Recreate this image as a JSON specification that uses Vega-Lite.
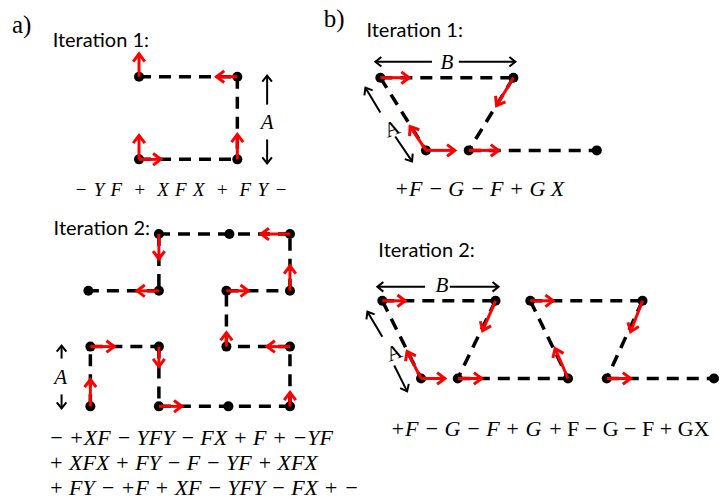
{
  "$schema": "https://vega.github.io/schema/vega-lite/v6.json",
  "width": 719,
  "height": 499,
  "autosize": {"type": "fit", "contains": "padding"},
  "padding": 0,
  "background": "white",
  "config": {"view": {"stroke": null}},
  "datasets": {
    "lines": [
      {"x": 140, "y": 77, "x2": 239, "y2": 77},
      {"x": 239, "y": 77, "x2": 239, "y2": 160},
      {"x": 140, "y": 160, "x2": 239, "y2": 160},
      {"x": 91, "y": 408, "x2": 91, "y2": 348},
      {"x": 91, "y": 348, "x2": 160, "y2": 348},
      {"x": 160, "y": 348, "x2": 160, "y2": 408},
      {"x": 160, "y": 408, "x2": 292, "y2": 408},
      {"x": 292, "y": 408, "x2": 292, "y2": 348},
      {"x": 292, "y": 348, "x2": 228, "y2": 348},
      {"x": 228, "y": 348, "x2": 228, "y2": 292},
      {"x": 228, "y": 292, "x2": 292, "y2": 292},
      {"x": 292, "y": 292, "x2": 292, "y2": 235},
      {"x": 292, "y": 235, "x2": 160, "y2": 235},
      {"x": 160, "y": 235, "x2": 160, "y2": 292},
      {"x": 160, "y": 292, "x2": 89, "y2": 292},
      {"x": 383, "y": 78, "x2": 517, "y2": 78},
      {"x": 517, "y": 78, "x2": 472, "y2": 151},
      {"x": 383, "y": 78, "x2": 429, "y2": 151},
      {"x": 472, "y": 151, "x2": 601, "y2": 151},
      {"x": 385, "y": 302, "x2": 499, "y2": 302},
      {"x": 385, "y": 302, "x2": 424, "y2": 380},
      {"x": 499, "y": 302, "x2": 461, "y2": 380},
      {"x": 461, "y": 380, "x2": 572, "y2": 380},
      {"x": 534, "y": 302, "x2": 647, "y2": 302},
      {"x": 534, "y": 302, "x2": 572, "y2": 380},
      {"x": 647, "y": 302, "x2": 611, "y2": 380},
      {"x": 611, "y": 380, "x2": 719, "y2": 380}
    ],
    "dots": [
      {"x": 140, "y": 77}, {"x": 239, "y": 77}, {"x": 140, "y": 160}, {"x": 239, "y": 160},
      {"x": 160, "y": 235}, {"x": 231, "y": 235}, {"x": 292, "y": 235},
      {"x": 89, "y": 292}, {"x": 160, "y": 292}, {"x": 228, "y": 292}, {"x": 292, "y": 292},
      {"x": 91, "y": 348}, {"x": 160, "y": 348}, {"x": 228, "y": 348}, {"x": 292, "y": 348},
      {"x": 91, "y": 408}, {"x": 160, "y": 408}, {"x": 230, "y": 408}, {"x": 292, "y": 408},
      {"x": 383, "y": 78}, {"x": 517, "y": 78}, {"x": 429, "y": 151}, {"x": 472, "y": 151}, {"x": 601, "y": 151},
      {"x": 385, "y": 302}, {"x": 499, "y": 302}, {"x": 534, "y": 302}, {"x": 647, "y": 302},
      {"x": 424, "y": 380}, {"x": 461, "y": 380}, {"x": 572, "y": 380}, {"x": 611, "y": 380}, {"x": 719, "y": 380}
    ],
    "red": [
      {"x": 140, "y": 77, "x2": 140, "y2": 54},
      {"x": 239, "y": 77, "x2": 218, "y2": 77},
      {"x": 239, "y": 160, "x2": 239, "y2": 135},
      {"x": 140, "y": 160, "x2": 140, "y2": 136},
      {"x": 140, "y": 160, "x2": 162, "y2": 160},
      {"x": 91, "y": 408, "x2": 91, "y2": 381},
      {"x": 91, "y": 348, "x2": 115, "y2": 348},
      {"x": 160, "y": 348, "x2": 160, "y2": 368},
      {"x": 160, "y": 408, "x2": 183, "y2": 408},
      {"x": 292, "y": 408, "x2": 292, "y2": 394},
      {"x": 292, "y": 348, "x2": 269, "y2": 348},
      {"x": 228, "y": 348, "x2": 228, "y2": 334},
      {"x": 228, "y": 292, "x2": 250, "y2": 292},
      {"x": 292, "y": 292, "x2": 292, "y2": 267},
      {"x": 292, "y": 235, "x2": 263, "y2": 235},
      {"x": 160, "y": 235, "x2": 160, "y2": 260},
      {"x": 160, "y": 292, "x2": 138, "y2": 292},
      {"x": 383, "y": 78, "x2": 412, "y2": 78},
      {"x": 517, "y": 78, "x2": 500, "y2": 106},
      {"x": 429, "y": 151, "x2": 413, "y2": 127},
      {"x": 429, "y": 151, "x2": 458, "y2": 151},
      {"x": 472, "y": 151, "x2": 502, "y2": 151},
      {"x": 385, "y": 302, "x2": 408, "y2": 302},
      {"x": 499, "y": 302, "x2": 486, "y2": 332},
      {"x": 424, "y": 380, "x2": 410, "y2": 353},
      {"x": 424, "y": 380, "x2": 448, "y2": 380},
      {"x": 461, "y": 380, "x2": 485, "y2": 380},
      {"x": 534, "y": 302, "x2": 557, "y2": 302},
      {"x": 572, "y": 380, "x2": 559, "y2": 350},
      {"x": 647, "y": 302, "x2": 635, "y2": 333},
      {"x": 611, "y": 380, "x2": 635, "y2": 380}
    ],
    "dims": [
      {"x": 269, "y": 105, "x2": 269, "y2": 76},
      {"x": 269, "y": 140, "x2": 269, "y2": 164},
      {"x": 62, "y": 360, "x2": 62, "y2": 347},
      {"x": 62, "y": 396, "x2": 62, "y2": 410},
      {"x": 435, "y": 62, "x2": 378, "y2": 62},
      {"x": 462, "y": 62, "x2": 519, "y2": 62},
      {"x": 383, "y": 113, "x2": 368, "y2": 88},
      {"x": 398, "y": 137, "x2": 415, "y2": 162},
      {"x": 428, "y": 288, "x2": 380, "y2": 288},
      {"x": 453, "y": 288, "x2": 502, "y2": 288},
      {"x": 385, "y": 338, "x2": 370, "y2": 313},
      {"x": 397, "y": 367, "x2": 410, "y2": 393}
    ],
    "texts": [
      {"t": "a)", "x": 12, "y": 33, "k": "panel"},
      {"t": "b)", "x": 326, "y": 27, "k": "panel"},
      {"t": "Iteration 1:", "x": 53, "y": 47, "k": "iter"},
      {"t": "Iteration 2:", "x": 54, "y": 236, "k": "iter"},
      {"t": "Iteration 1:", "x": 369, "y": 37, "k": "iter"},
      {"t": "Iteration 2:", "x": 381, "y": 258, "k": "iter"},
      {"t": "−\u2004Y\u2004F\u2004\u00a0+\u2004\u00a0X\u2004F\u2004X\u2004\u00a0+\u2004\u00a0F\u2004Y\u2004−", "x": 75, "y": 197, "k": "formula1"},
      {"t": "− +XF − YFY − FX + F + −YF", "x": 49, "y": 447, "k": "formula"},
      {"t": "+ XFX + FY − F − YF + XFX", "x": 49, "y": 472, "k": "formula"},
      {"t": "+ FY − +F + XF − YFY − FX + −", "x": 49, "y": 497, "k": "formula"},
      {"t": "+F − G − F + G X", "x": 397, "y": 197, "k": "formula"},
      {"t": "+F − G − F + G", "x": 393, "y": 438, "k": "formula"},
      {"t": "+ F − G − F + GX", "x": 553, "y": 438, "k": "upright"},
      {"t": "A", "x": 269, "y": 123, "k": "dim"},
      {"t": "A", "x": 61, "y": 380, "k": "dim"},
      {"t": "B", "x": 450, "y": 63, "k": "dim"},
      {"t": "B", "x": 445, "y": 287, "k": "dim"},
      {"t": "A", "x": 395, "y": 130, "k": "dimrot"},
      {"t": "A", "x": 397, "y": 355, "k": "dimrot"}
    ]
  },
  "layer": [
    {
      "data": {"name": "lines"},
      "mark": {"type": "rule", "color": "black", "strokeWidth": 3.5, "strokeDash": [12, 8]},
      "encoding": {
        "x": {"field": "x", "type": "quantitative", "scale": {"domain": [0, 719], "nice": false, "zero": false}, "axis": null},
        "y": {"field": "y", "type": "quantitative", "scale": {"domain": [0, 499], "nice": false, "zero": false, "reverse": true}, "axis": null},
        "x2": {"field": "x2"},
        "y2": {"field": "y2"}
      }
    },
    {
      "data": {"name": "dims"},
      "mark": {"type": "rule", "color": "black", "strokeWidth": 2},
      "encoding": {
        "x": {"field": "x", "type": "quantitative", "axis": null},
        "y": {"field": "y", "type": "quantitative", "axis": null},
        "x2": {"field": "x2"},
        "y2": {"field": "y2"}
      }
    },
    {
      "data": {"name": "dims"},
      "transform": [{"calculate": "atan2(datum.y2 - datum.y, datum.x2 - datum.x) * 180 / PI", "as": "ang"}],
      "mark": {"type": "point", "shape": "M-1,-0.8L0,0L-1,0.8", "filled": false, "stroke": "black", "strokeWidth": 2, "size": 144, "opacity": 1},
      "encoding": {
        "x": {"field": "x2", "type": "quantitative", "axis": null},
        "y": {"field": "y2", "type": "quantitative", "axis": null},
        "angle": {"field": "ang", "type": "quantitative", "scale": null}
      }
    },
    {
      "data": {"name": "dots"},
      "mark": {"type": "point", "shape": "circle", "filled": true, "color": "black", "size": 100, "opacity": 1},
      "encoding": {
        "x": {"field": "x", "type": "quantitative", "axis": null},
        "y": {"field": "y", "type": "quantitative", "axis": null}
      }
    },
    {
      "data": {"name": "red"},
      "mark": {"type": "rule", "color": "#ff0000", "strokeWidth": 3},
      "encoding": {
        "x": {"field": "x", "type": "quantitative", "axis": null},
        "y": {"field": "y", "type": "quantitative", "axis": null},
        "x2": {"field": "x2"},
        "y2": {"field": "y2"}
      }
    },
    {
      "data": {"name": "red"},
      "transform": [{"calculate": "atan2(datum.y2 - datum.y, datum.x2 - datum.x) * 180 / PI", "as": "ang"}],
      "mark": {"type": "point", "shape": "M-1,-0.75L0,0L-1,0.75", "filled": false, "stroke": "#ff0000", "strokeWidth": 3, "size": 240, "opacity": 1},
      "encoding": {
        "x": {"field": "x2", "type": "quantitative", "axis": null},
        "y": {"field": "y2", "type": "quantitative", "axis": null},
        "angle": {"field": "ang", "type": "quantitative", "scale": null}
      }
    },
    {
      "data": {"name": "texts"},
      "transform": [{"filter": "datum.k === 'panel'"}],
      "mark": {"type": "text", "font": "Liberation Serif", "fontSize": 25, "align": "left", "baseline": "alphabetic", "color": "black"},
      "encoding": {
        "x": {"field": "x", "type": "quantitative", "axis": null},
        "y": {"field": "y", "type": "quantitative", "axis": null},
        "text": {"field": "t"}
      }
    },
    {
      "data": {"name": "texts"},
      "transform": [{"filter": "datum.k === 'iter'"}],
      "mark": {"type": "text", "font": "Lato", "fontSize": 20, "align": "left", "baseline": "alphabetic", "color": "black"},
      "encoding": {
        "x": {"field": "x", "type": "quantitative", "axis": null},
        "y": {"field": "y", "type": "quantitative", "axis": null},
        "text": {"field": "t"}
      }
    },
    {
      "data": {"name": "texts"},
      "transform": [{"filter": "datum.k === 'formula1'"}],
      "mark": {"type": "text", "font": "Liberation Serif", "fontStyle": "italic", "fontSize": 19, "align": "left", "baseline": "alphabetic", "color": "black"},
      "encoding": {
        "x": {"field": "x", "type": "quantitative", "axis": null},
        "y": {"field": "y", "type": "quantitative", "axis": null},
        "text": {"field": "t"}
      }
    },
    {
      "data": {"name": "texts"},
      "transform": [{"filter": "datum.k === 'formula'"}],
      "mark": {"type": "text", "font": "Liberation Serif", "fontStyle": "italic", "fontSize": 22, "align": "left", "baseline": "alphabetic", "color": "black"},
      "encoding": {
        "x": {"field": "x", "type": "quantitative", "axis": null},
        "y": {"field": "y", "type": "quantitative", "axis": null},
        "text": {"field": "t"}
      }
    },
    {
      "data": {"name": "texts"},
      "transform": [{"filter": "datum.k === 'upright'"}],
      "mark": {"type": "text", "font": "Liberation Serif", "fontSize": 22, "align": "left", "baseline": "alphabetic", "color": "black"},
      "encoding": {
        "x": {"field": "x", "type": "quantitative", "axis": null},
        "y": {"field": "y", "type": "quantitative", "axis": null},
        "text": {"field": "t"}
      }
    },
    {
      "data": {"name": "texts"},
      "transform": [{"filter": "datum.k === 'dim'"}],
      "mark": {"type": "text", "font": "Liberation Serif", "fontStyle": "italic", "fontSize": 21, "align": "center", "baseline": "middle", "color": "black"},
      "encoding": {
        "x": {"field": "x", "type": "quantitative", "axis": null},
        "y": {"field": "y", "type": "quantitative", "axis": null},
        "text": {"field": "t"}
      }
    },
    {
      "data": {"name": "texts"},
      "transform": [{"filter": "datum.k === 'dimrot'"}],
      "mark": {"type": "text", "font": "Liberation Serif", "fontSize": 21, "align": "center", "baseline": "middle", "angle": 340, "color": "black"},
      "encoding": {
        "x": {"field": "x", "type": "quantitative", "axis": null},
        "y": {"field": "y", "type": "quantitative", "axis": null},
        "text": {"field": "t"}
      }
    }
  ]
}
